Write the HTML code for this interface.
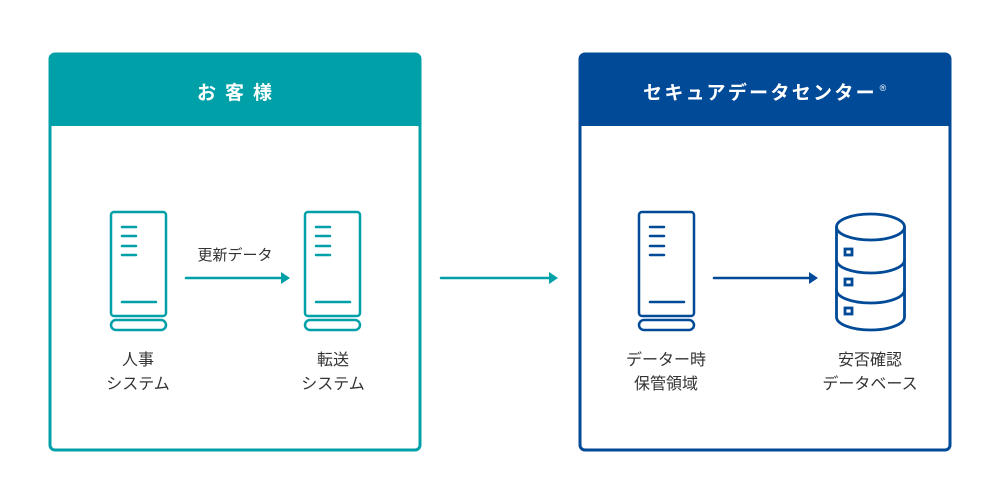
<!DOCTYPE html>
<html><head><meta charset="utf-8"><style>
html,body{margin:0;padding:0;background:#fff}
svg{display:block}
text{font-family:"Liberation Sans","Noto Sans CJK JP",sans-serif}
</style></head><body>
<svg width="1000" height="500" viewBox="0 0 1000 500" xmlns="http://www.w3.org/2000/svg">
<rect x="50" y="54" width="370" height="396" rx="5" fill="#fff" stroke="#00a0a8" stroke-width="3"/>
<path d="M50 126 V59 a5 5 0 0 1 5 -5 H415 a5 5 0 0 1 5 5 V126 Z" fill="#00a0a8"/>
<text x="239" y="99" text-anchor="middle" font-size="19" font-weight="bold" fill="#fff" letter-spacing="9">お客様</text>
<rect x="580" y="54" width="370" height="396" rx="5" fill="#fff" stroke="#004a98" stroke-width="3"/>
<path d="M580 126 V59 a5 5 0 0 1 5 -5 H945 a5 5 0 0 1 5 5 V126 Z" fill="#004a98"/>
<text x="760" y="99" text-anchor="middle" font-size="19" font-weight="bold" fill="#fff" letter-spacing="2.3">セキュアデータセンター</text>
<text x="883" y="91" text-anchor="middle" font-size="9" fill="#fff">®</text>

<g fill="none" stroke-linecap="round">
<g stroke="#00a0a8" stroke-width="2.5">
<rect x="111" y="212" width="55" height="104" rx="3"/>
<rect x="111" y="320" width="55" height="10" rx="5"/>
<path d="M122 227h14M122 236h14M122 246h14M122 255h14M122 302h34"/>
</g>
<g stroke="#00a0a8" stroke-width="2.5">
<rect x="305" y="212" width="55" height="104" rx="3"/>
<rect x="305" y="320" width="55" height="10" rx="5"/>
<path d="M316 227h14M316 236h14M316 246h14M316 255h14M316 302h34"/>
</g>
<g stroke="#004a98" stroke-width="2.5">
<rect x="639" y="212" width="55" height="104" rx="3"/>
<rect x="639" y="320" width="55" height="10" rx="5"/>
<path d="M650 227h14M650 236h14M650 246h14M650 255h14M650 302h34"/>
</g>
<g stroke="#004a98" stroke-width="2.8">
<ellipse cx="870.5" cy="227" rx="34" ry="13"/>
<path d="M836.5 227 V317 a34 13 0 0 0 68 0 V227"/>
<path d="M836.5 260 a34 13 0 0 0 68 0"/>
<path d="M836.5 290 a34 13 0 0 0 68 0"/>
<rect x="845" y="249" width="7" height="6"/>
<rect x="845" y="279" width="7" height="6"/>
<rect x="845" y="308" width="7" height="6"/>
</g>
<path d="M186 278H282" stroke="#00a0a8" stroke-width="2.5"/>
<path d="M441 278H550" stroke="#00a0a8" stroke-width="2.5"/>
<path d="M714 278H810" stroke="#004a98" stroke-width="2.5"/>
</g>
<path d="M281 272 L290 278 L281 284 Z" fill="#00a0a8"/>
<path d="M549 272 L558 278 L549 284 Z" fill="#00a0a8"/>
<path d="M809 272 L818 278 L809 284 Z" fill="#004a98"/>

<g font-size="16" fill="#333" text-anchor="middle">
<text x="235" y="260" font-size="15">更新データ</text>
<text x="138" y="365">人事</text>
<text x="138" y="389">システム</text>
<text x="333" y="365">転送</text>
<text x="333" y="389">システム</text>
<text x="666" y="365">データー時</text>
<text x="666" y="389">保管領域</text>
<text x="870" y="365">安否確認</text>
<text x="870" y="389">データベース</text>
</g>
</svg>
</body></html>
